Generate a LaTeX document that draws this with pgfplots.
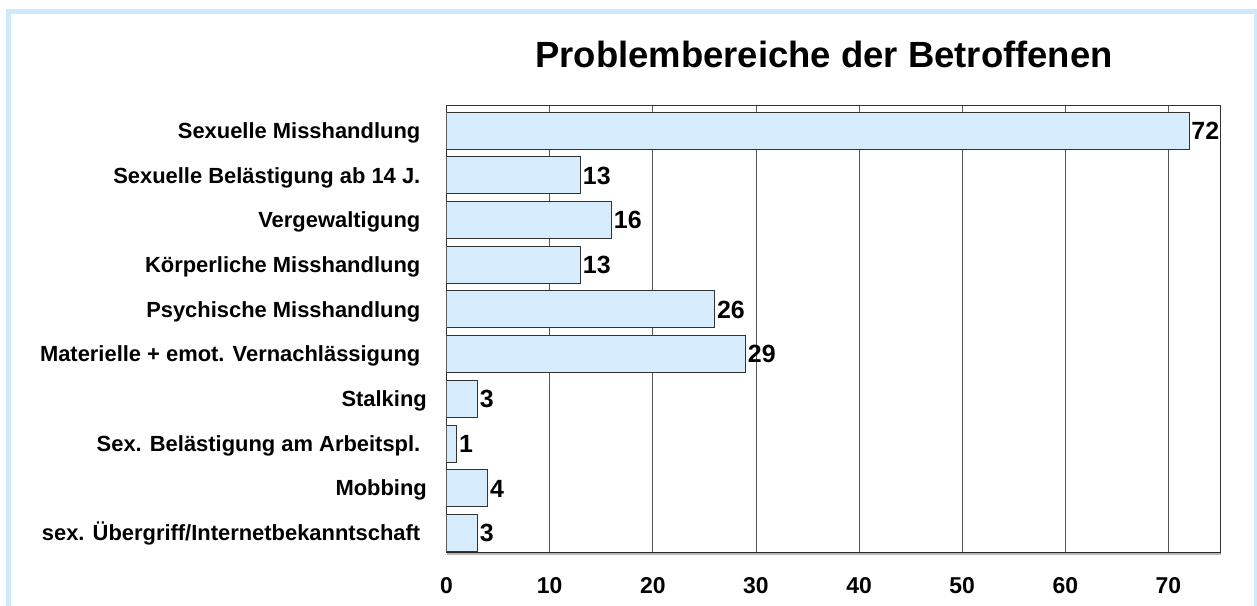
\documentclass[border=0pt]{standalone}
\usepackage{fontspec}
\setmainfont{Liberation Sans}
\usepackage{pgfplots}
\pgfplotsset{compat=1.18}
\definecolor{framecol}{RGB}{204,234,252}
\definecolor{barfill}{RGB}{214,236,252}
\definecolor{gridcol}{RGB}{85,85,85}
\newcommand{\tsp}{\hspace*{6.5bp}}
\begin{document}
\begin{tikzpicture}[x=1bp,y=1bp]
\useasboundingbox (0,0) rectangle (1257,606);
\clip (0,0) rectangle (1257,606);
\draw[framecol, line width=5bp] (8.5,594.5) rectangle (1256.5,-20);
\node[font=\bfseries\fontsize{36.6}{40}\selectfont, anchor=base, inner sep=0pt] at (824,538) {Problembereiche der Betroffenen};
\begin{axis}[
  name=ax,
  at={(446.5bp,53.3bp)}, anchor=south west,
  scale only axis, width=773.5bp, height=447bp,
  xbar, bar width=37bp,
  xmin=0, xmax=75, ymin=0.445, ymax=10.445, y dir=reverse,
  xtick={0,10,20,30,40,50,60,70},
  xticklabels={0,10,20,30,40,50,60,70},
  ytick={1,2,3,4,5,6,7,8,9,10},
  yticklabels={
    {Sexuelle Misshandlung\tsp},
    {Sexuelle Belästigung ab 14 J.\tsp},
    {Vergewaltigung\tsp},
    {Körperliche Misshandlung\tsp},
    {Psychische Misshandlung\tsp},
    {Materielle + emot. Vernachlässigung\tsp},
    {Stalking},
    {Sex. Belästigung am Arbeitspl.\tsp},
    {Mobbing},
    {sex. Übergriff/Internetbekanntschaft\tsp}},
  major tick length=0pt,
  xmajorgrids, major grid style={gridcol, line width=0.8bp},
  axis line style={draw=black!80, line width=0.8bp},
  xticklabel style={font=\bfseries\fontsize{23}{25}\selectfont, anchor=north, inner sep=0pt, text height=16.5bp, text depth=0pt, yshift=-24bp},
  yticklabel style={font=\bfseries\fontsize{22}{24}\selectfont, anchor=east, inner sep=0pt, text height=15.75bp, text depth=0pt, xshift=-19.5bp},
  point meta=x,
  /pgf/number format/assume math mode=true,
  nodes near coords={\pgfmathprintnumber[assume math mode=true]{\pgfplotspointmeta}},
  nodes near coords style={font=\bfseries\fontsize{25}{27}\selectfont, anchor=west, inner sep=0pt, text height=17.9bp, text depth=0pt, xshift=2bp},
]
\addplot[fill=barfill, draw=black!80, line width=0.8bp] coordinates {
  (72,1) (13,2) (16,3) (13,4) (26,5) (29,6) (3,7) (1,8) (4,9) (3,10)
};
\end{axis}
\draw[gray!55, line width=1.5bp] ([yshift=-1.5bp]ax.south west) -- ([yshift=-1.5bp,xshift=1bp]ax.south east);
\draw[black!85, line width=1.5bp] (ax.south west) -- (ax.south east);
\end{tikzpicture}
\end{document}
